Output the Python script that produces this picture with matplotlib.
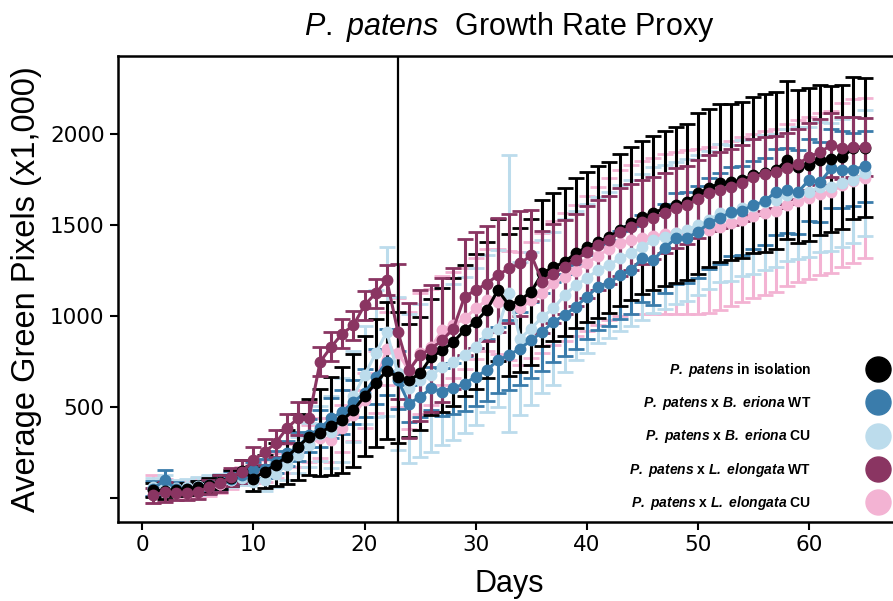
import matplotlib
matplotlib.use('Agg')
import matplotlib.pyplot as plt
from matplotlib.lines import Line2D

plt.rcParams['mathtext.fontset'] = 'custom'
plt.rcParams['mathtext.rm'] = 'Liberation Sans'
plt.rcParams['mathtext.it'] = 'Liberation Sans:italic'
plt.rcParams['mathtext.bf'] = 'Liberation Sans:bold'
plt.rcParams['mathtext.bfit'] = 'Liberation Sans:italic:bold'

days = list(range(1, 66))

# P. patens in isolation
iso = [45, 40, 45, 50, 60, 70, 90, 110, 150, 108,
       145, 185, 227, 282, 337, 360, 395, 428, 483, 560,
       632, 700, 665, 648, 685, 776, 813, 859, 923, 969,
       1033, 1143, 1060, 1088, 1134, 1236, 1269, 1297, 1346, 1379,
       1407, 1434, 1473, 1511, 1544, 1566, 1593, 1610, 1626, 1674,
       1703, 1731, 1736, 1747, 1775, 1786, 1800, 1857, 1819, 1830,
       1857, 1864, 1874, 1923, 1925]
iso_err = [40, 45, 35, 35, 35, 40, 40, 45, 60, 70,
           90, 120, 150, 180, 210, 240, 270, 290, 310, 330,
           350, 375, 360, 310, 310, 320, 340, 350, 360, 370,
           375, 390, 390, 395, 400, 400, 405, 405, 410, 410,
           415, 415, 420, 420, 420, 425, 425, 430, 430, 440,
           435, 435, 430, 430, 430, 435, 430, 436, 420, 420,
           410, 400, 395, 390, 380]

# x B. eriona WT
bew = [53, 99, 53, 53, 62, 71, 88, 108, 126, 154,
       163, 200, 246, 282, 346, 384, 439, 474, 529, 577,
       667, 749, 648, 520, 557, 603, 584, 603, 630, 667,
       703, 758, 786, 822, 868, 914, 969, 1005, 1051, 1106,
       1161, 1181, 1225, 1253, 1318, 1308, 1373, 1428, 1430, 1462,
       1511, 1538, 1573, 1580, 1610, 1630, 1683, 1690, 1681, 1747,
       1736, 1811, 1805, 1805, 1824]
bew_err = [40, 55, 35, 30, 35, 35, 35, 40, 40, 45,
           50, 60, 70, 80, 90, 100, 110, 120, 120, 130,
           150, 180, 160, 100, 110, 120, 130, 140, 150, 160,
           170, 180, 190, 200, 210, 215, 220, 225, 230, 230,
           235, 235, 240, 240, 240, 245, 245, 250, 250, 250,
           250, 250, 245, 245, 240, 240, 235, 235, 230, 225,
           220, 215, 210, 200, 195]

# x B. eriona CU
bec = [60, 75, 55, 60, 65, 75, 90, 100, 110, 90,
       99, 133, 181, 236, 291, 355, 364, 430, 560, 676,
       795, 914, 685, 603, 648, 674, 722, 749, 786, 832,
       905, 932, 1125, 877, 932, 996, 1042, 1115, 1170, 1208,
       1253, 1280, 1318, 1346, 1379, 1418, 1434, 1456, 1473, 1500,
       1527, 1566, 1566, 1593, 1604, 1626, 1637, 1665, 1676, 1681,
       1709, 1709, 1731, 1747, 1786]
bec_err = [50, 50, 45, 45, 50, 50, 45, 40, 40, 50,
           60, 70, 80, 100, 120, 150, 200, 230, 250, 270,
           350, 465, 420, 410, 420, 420, 430, 430, 430, 430,
           430, 430, 760, 420, 420, 420, 420, 420, 410, 410,
           400, 400, 400, 400, 400, 400, 395, 390, 390, 385,
           380, 380, 375, 375, 370, 370, 365, 360, 360, 355,
           355, 350, 350, 345, 345]

# x L. elongata WT
lew = [16, 34, 26, 26, 34, 62, 81, 117, 145, 209,
       254, 302, 384, 439, 439, 749, 831, 904, 950, 1060,
       1126, 1198, 914, 703, 786, 822, 868, 932, 1106, 1143,
       1179, 1225, 1262, 1289, 1335, 1189, 1234, 1269, 1308, 1352,
       1390, 1418, 1462, 1489, 1516, 1540, 1566, 1593, 1610, 1643,
       1676, 1692, 1709, 1731, 1765, 1780, 1791, 1813, 1835, 1875,
       1900, 1940, 1925, 1930, 1928]
lew_err = [40, 54, 35, 35, 40, 40, 45, 50, 64, 70,
           70, 75, 80, 90, 90, 80, 80, 80, 80, 80,
           80, 80, 370, 370, 360, 350, 340, 330, 320, 320,
           315, 312, 300, 290, 250, 280, 270, 260, 255, 250,
           245, 240, 240, 235, 230, 225, 220, 220, 215, 215,
           210, 210, 210, 210, 210, 205, 200, 195, 190, 185,
           180, 175, 170, 165, 160]

# x L. elongata CU
lec = [50, 45, 40, 45, 55, 65, 80, 100, 120, 140,
       150, 180, 220, 260, 300, 330, 319, 384, 456, 538,
       640, 820, 800, 700, 795, 830, 923, 951, 987, 1042,
       1088, 1080, 1060, 1042, 1088, 1125, 1180, 1215, 1250, 1290,
       1330, 1370, 1400, 1420, 1430, 1440, 1450, 1455, 1460, 1465,
       1473, 1490, 1509, 1530, 1550, 1564, 1580, 1610, 1630, 1650,
       1670, 1683, 1720, 1740, 1760]
lec_err = [75, 60, 50, 50, 55, 55, 50, 50, 50, 55,
           60, 70, 80, 90, 100, 110, 120, 130, 140, 150,
           170, 200, 300, 320, 330, 320, 300, 290, 280, 275,
           280, 290, 300, 310, 320, 330, 340, 350, 360, 370,
           380, 390, 400, 410, 420, 430, 440, 445, 450, 455,
           455, 455, 455, 455, 450, 450, 450, 445, 445, 445,
           445, 445, 450, 450, 440]

labels = [r'$\mathbfit{P.\ patens}$ in isolation',
          r'$\mathbfit{P.\ patens}$ x $\mathbfit{B.\ eriona}$ WT',
          r'$\mathbfit{P.\ patens}$ x $\mathbfit{B.\ eriona}$ CU',
          r'$\mathbfit{P.\ patens}$ x $\mathbfit{L.\ elongata}$ WT',
          r'$\mathbfit{P.\ patens}$ x $\mathbfit{L.\ elongata}$ CU']
colors = ['#000000', '#3a7cab', '#bcdcec', '#8a3562', '#f3b3d3']
series = [iso, bew, bec, lew, lec]
errs = [iso_err, bew_err, bec_err, lew_err, lec_err]

fig = plt.figure(figsize=(8.93, 6.01), dpi=100)
# right edge of the axes falls just outside the picture, as in the original
ax = fig.add_axes([0.132, 0.131, 0.876, 0.776])

# draw order so maroon sits above black, blue above light blue, light blue above pink
order = [4, 2, 1, 0, 3]
for i in order:
    ax.errorbar(days, series[i], yerr=errs[i], fmt='-o', color=colors[i],
                markersize=7.5, linewidth=2.2, elinewidth=2.2, capsize=5.5,
                capthick=2.0)

ax.axvline(23, color='black', linewidth=1.6)

ax.set_xlim(-2.2, 68.2)
ax.set_ylim(-132, 2429)
ax.set_xticks([0, 10, 20, 30, 40, 50, 60])
ax.set_yticks([0, 500, 1000, 1500, 2000])
ax.set_yticklabels(['', '500', '1000', '1500', '2000'])
ax.tick_params(labelsize=15.5, length=6, width=1.5)
for s in ax.spines.values():
    s.set_linewidth(1.8)

ax.set_xlabel('Days', fontsize=22, family='Liberation Sans', labelpad=10)
ax.set_ylabel('Average Green Pixels (x1,000)', fontsize=23.5,
              family='Liberation Sans', labelpad=6)
ax.set_title(r'$\mathit{P.\ patens}$  Growth Rate Proxy', fontsize=22,
             family='Liberation Sans', pad=15)

handles = [Line2D([], [], marker='o', linestyle='', markersize=18, color=c)
           for c in colors]
fig.legend(handles, labels, loc='lower right', markerfirst=False, frameon=False,
           prop={'family': 'Liberation Sans', 'weight': 'bold', 'size': 10},
           labelspacing=1.1, handletextpad=3.8, borderpad=0, borderaxespad=0,
           bbox_to_anchor=(0.999, 0.148), bbox_transform=fig.transFigure)

plt.savefig('out.png', dpi=100)
